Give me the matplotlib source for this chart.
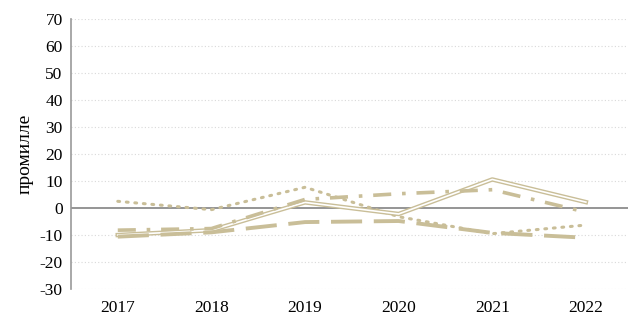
import numpy as np
import matplotlib.pyplot as plt

years = ['2017', '2018', '2019', '2020', '2021', '2022']

# серии (промилле)
s_dotted = [2.5, -0.6, 7.7, -3.2, -9.5, -6.3]
s_double = [-10.0, -8.2, 2.1, -2.2, 10.6, 2.2]
s_dashdot = [-8.2, -7.6, 3.2, 5.3, 6.8, -1.5]
s_longdash = [-10.6, -9.0, -5.2, -4.8, -9.2, -11.0]

col = '#C9BE98'

plt.rcParams['font.family'] = ['Liberation Serif', 'DejaVu Serif']
plt.rcParams['axes.unicode_minus'] = False
fig = plt.figure(figsize=(6.28, 3.19), dpi=100)
ax = fig.add_axes([0.113, 0.094, 0.887, 0.846])

x = np.arange(len(years))

for v in [-30, -20, -10, 10, 20, 30, 40, 50, 60, 70]:
    ax.axhline(v, color='#d9d9d9', lw=0.8, ls=(0, (1, 2)), zorder=0)
ax.axhline(0, color='#8c8c8c', lw=1.3, zorder=1)

ax.plot(x, s_dotted, color=col, lw=2.2, ls=(0, (0.6, 2.2)), dash_capstyle='round', zorder=3)
ax.plot(x, s_double, color=col, lw=3.2, zorder=3)
ax.plot(x, s_double, color='white', lw=1.2, zorder=3)
ax.plot(x, s_dashdot, color=col, lw=2.6, ls=(0, (5, 3, 1, 3)), zorder=3)
ax.plot(x, s_longdash, color=col, lw=2.8, ls=(0, (8, 3)), zorder=3)

ax.set_xlim(-0.5, 5.45)
ax.set_ylim(-30, 70)
ax.set_yticks(range(-30, 71, 10))
ax.set_xticks(x)
ax.set_xticklabels(years)
ax.tick_params(length=0, labelsize=12.5, pad=8)
ax.tick_params(axis='y', pad=6)
for s in ['top', 'right', 'bottom']:
    ax.spines[s].set_visible(False)
ax.spines['left'].set_color('#999999')
ax.spines['left'].set_linewidth(1.2)
ax.set_ylabel('промилле', fontsize=14, labelpad=4)

fig.savefig('out.png', dpi=100)
